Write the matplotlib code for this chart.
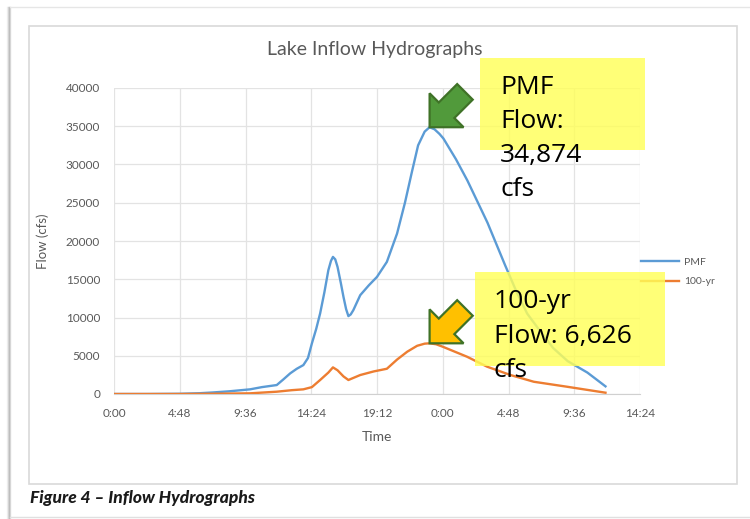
import matplotlib
matplotlib.use("Agg")
import matplotlib.pyplot as plt
from matplotlib.patches import Polygon, Rectangle
from matplotlib.lines import Line2D
import matplotlib.transforms as mtransforms
import numpy as np

# ---- data (time in days from start) ----
pmf_time = [0, 0.1, 0.2, 0.26, 0.3, 0.35, 0.414, 0.45, 0.495, 0.515, 0.536, 0.556,
            0.576, 0.590, 0.602, 0.615, 0.627, 0.640, 0.652, 0.660, 0.666, 0.673,
            0.680, 0.690, 0.698, 0.706, 0.713, 0.720, 0.728, 0.749, 0.775, 0.800,
            0.830, 0.861, 0.885, 0.906, 0.925, 0.945, 0.96, 0.975, 0.99, 1.002,
            1.04, 1.075, 1.136, 1.19, 1.225, 1.257, 1.30, 1.336, 1.38, 1.44, 1.495]
pmf_flow = [0, 0, 30, 100, 200, 350, 610, 900, 1170, 1900, 2700, 3300,
            3780, 4700, 6620, 8500, 10530, 13300, 16180, 17400, 17920, 17600,
            16610, 14500, 12700, 11100, 10180, 10400, 10960, 12920, 14200, 15310,
            17270, 20970, 25000, 29000, 32500, 34300, 34874, 34600, 34000, 33400,
            30700, 27900, 22400, 16800, 13300, 10500, 8000, 6000, 4300, 2800, 1000]

yr100_time = [0, 0.2, 0.3, 0.414, 0.495, 0.541, 0.576, 0.602, 0.627, 0.652, 0.666,
              0.680, 0.698, 0.713, 0.749, 0.790, 0.830, 0.861, 0.892, 0.922, 0.945,
              0.96, 0.98, 1.0, 1.074, 1.135, 1.206, 1.277, 1.378, 1.495]
yr100_flow = [0, 0, 30, 90, 300, 500, 610, 900, 1830, 2800, 3480,
              3100, 2300, 1830, 2480, 2950, 3300, 4500, 5530, 6300, 6580,
              6626, 6500, 6180, 4870, 3570, 2480, 1600, 950, 170]

x_ticks = [0, 0.2, 0.4, 0.6, 0.8, 1.0, 1.2, 1.4, 1.6]
x_tick_labels = ["0:00", "4:48", "9:36", "14:24", "19:12", "0:00", "4:48", "9:36", "14:24"]
y_ticks = [0, 5000, 10000, 15000, 20000, 25000, 30000, 35000, 40000]

series_names = ["PMF", "100-yr"]
series_colors = ["#5B9BD5", "#ED7D31"]
pmf_note = "PMF\nFlow:\n34,874\ncfs"
yr100_note = "100-yr\nFlow: 6,626\ncfs"
caption = "Figure 4 \u2013 Inflow Hydrographs"

W, H = 750, 519
fig = plt.figure(figsize=(W / 100, H / 100), dpi=100)
fig.patch.set_facecolor("white")


def fx(x):
    return x / W


def fy(y):
    return 1 - y / H


# ---- page decorations ----
for i, a in enumerate([0.10, 0.25, 0.45, 0.25]):
    fig.add_artist(Line2D([fx(7 + i), fx(7 + i)], [fy(7), fy(519)],
                          color="#808080", alpha=a, lw=1, transform=fig.transFigure))
fig.add_artist(Line2D([fx(10), fx(750)], [fy(7), fy(7)], color="#E6E6E6", lw=1,
                      transform=fig.transFigure))
fig.add_artist(Line2D([fx(10), fx(750)], [fy(517), fy(517)], color="#E0E0E0", lw=1,
                      transform=fig.transFigure))
fig.add_artist(Rectangle((fx(29), fy(484)), fx(737 - 29), (484 - 26) / H,
                         fill=False, edgecolor="#D9D9D9", lw=1.2,
                         transform=fig.transFigure))

# ---- chart ----
ax = fig.add_axes([fx(114), fy(394), fx(640 - 114), (394 - 88) / H])
ax.plot(pmf_time, pmf_flow, color=series_colors[0], lw=1.7, label=series_names[0],
        solid_joinstyle="round", zorder=3)
ax.plot(yr100_time, yr100_flow, color=series_colors[1], lw=1.7, label=series_names[1],
        solid_joinstyle="round", zorder=3)

ax.set_xlim(0, 1.6)
ax.set_ylim(0, 40000)
ax.set_xticks(x_ticks)
ax.set_xticklabels(x_tick_labels)
ax.set_yticks(y_ticks)
ax.set_yticklabels([str(v) for v in y_ticks])
ax.grid(True, color="#E3E3E3", lw=0.9)
ax.set_axisbelow(True)
for s in ["top", "right", "left"]:
    ax.spines[s].set_visible(False)
ax.spines["bottom"].set_color("#D0D0D0")
ax.tick_params(length=0, labelsize=8.5, labelcolor="#595959", pad=10)
for lab in ax.get_xticklabels() + ax.get_yticklabels():
    lab.set_family("Lato")
ax.set_xlabel("Time", fontsize=10, color="#595959", family="Lato", labelpad=9)
ax.set_ylabel("Flow (cfs)", fontsize=9.5, color="#595959", family="Lato", labelpad=12)
fig.text(0.5, fy(49), "Lake Inflow Hydrographs", ha="center", va="center",
         fontsize=14, color="#595959", family="Lato")

leg = ax.legend(loc="center left", bbox_to_anchor=(fx(641), fy(272)),
                bbox_transform=fig.transFigure, frameon=False, fontsize=7.5,
                handlelength=3.6, handletextpad=0.5, labelspacing=1.0,
                borderpad=0, borderaxespad=0, labelcolor="#595959")
for t in leg.get_texts():
    t.set_family("Lato")

# ---- callout boxes ----
box_color = (1.0, 1.0, 0.35)
fig.add_artist(Rectangle((fx(480), fy(150)), fx(645 - 480), (150 - 58) / H,
                         facecolor=box_color, alpha=0.82, edgecolor="none",
                         transform=fig.transFigure, zorder=5))
fig.add_artist(Rectangle((fx(475), fy(366)), fx(665 - 475), (366 - 272) / H,
                         facecolor=box_color, alpha=0.82, edgecolor="none",
                         transform=fig.transFigure, zorder=5))
fig.text(fx(500), fy(75), pmf_note, ha="left", va="top", fontsize=19,
         family="Open Sans", color="black", linespacing=1.47, zorder=6)
fig.text(fx(494), fy(289), yr100_note, ha="left", va="top", fontsize=19,
         family="Open Sans", color="black", linespacing=1.5, zorder=6)

# ---- block arrows pointing at the peaks ----
Lh, Wh, Ws, L = 24, 24, 11, 50
arrow_shape = np.array([[0, 0], [-Lh, Wh], [-Lh, Ws], [-L, Ws], [-L, -Ws],
                        [-Lh, -Ws], [-Lh, -Wh]])


def peak_arrow(times, flows, face):
    i = int(np.argmax(flows))
    tr = (mtransforms.Affine2D().rotate_deg(225)
          + mtransforms.ScaledTranslation(times[i], flows[i], ax.transData))
    ax.add_patch(Polygon(arrow_shape, closed=True, facecolor=face,
                         edgecolor="#3F7227", lw=1.6, transform=tr,
                         clip_on=False, zorder=7, joinstyle="miter"))


peak_arrow(pmf_time, pmf_flow, "#519A3B")
peak_arrow(yr100_time, yr100_flow, "#FFC000")

fig.text(fx(30), fy(498), caption, ha="left", va="center", fontsize=12.5,
         fontweight="black", fontstyle="italic",
         family=["Lato", "DejaVu Sans"], color="#1A1A1A")

fig.savefig("out.png", dpi=100)
